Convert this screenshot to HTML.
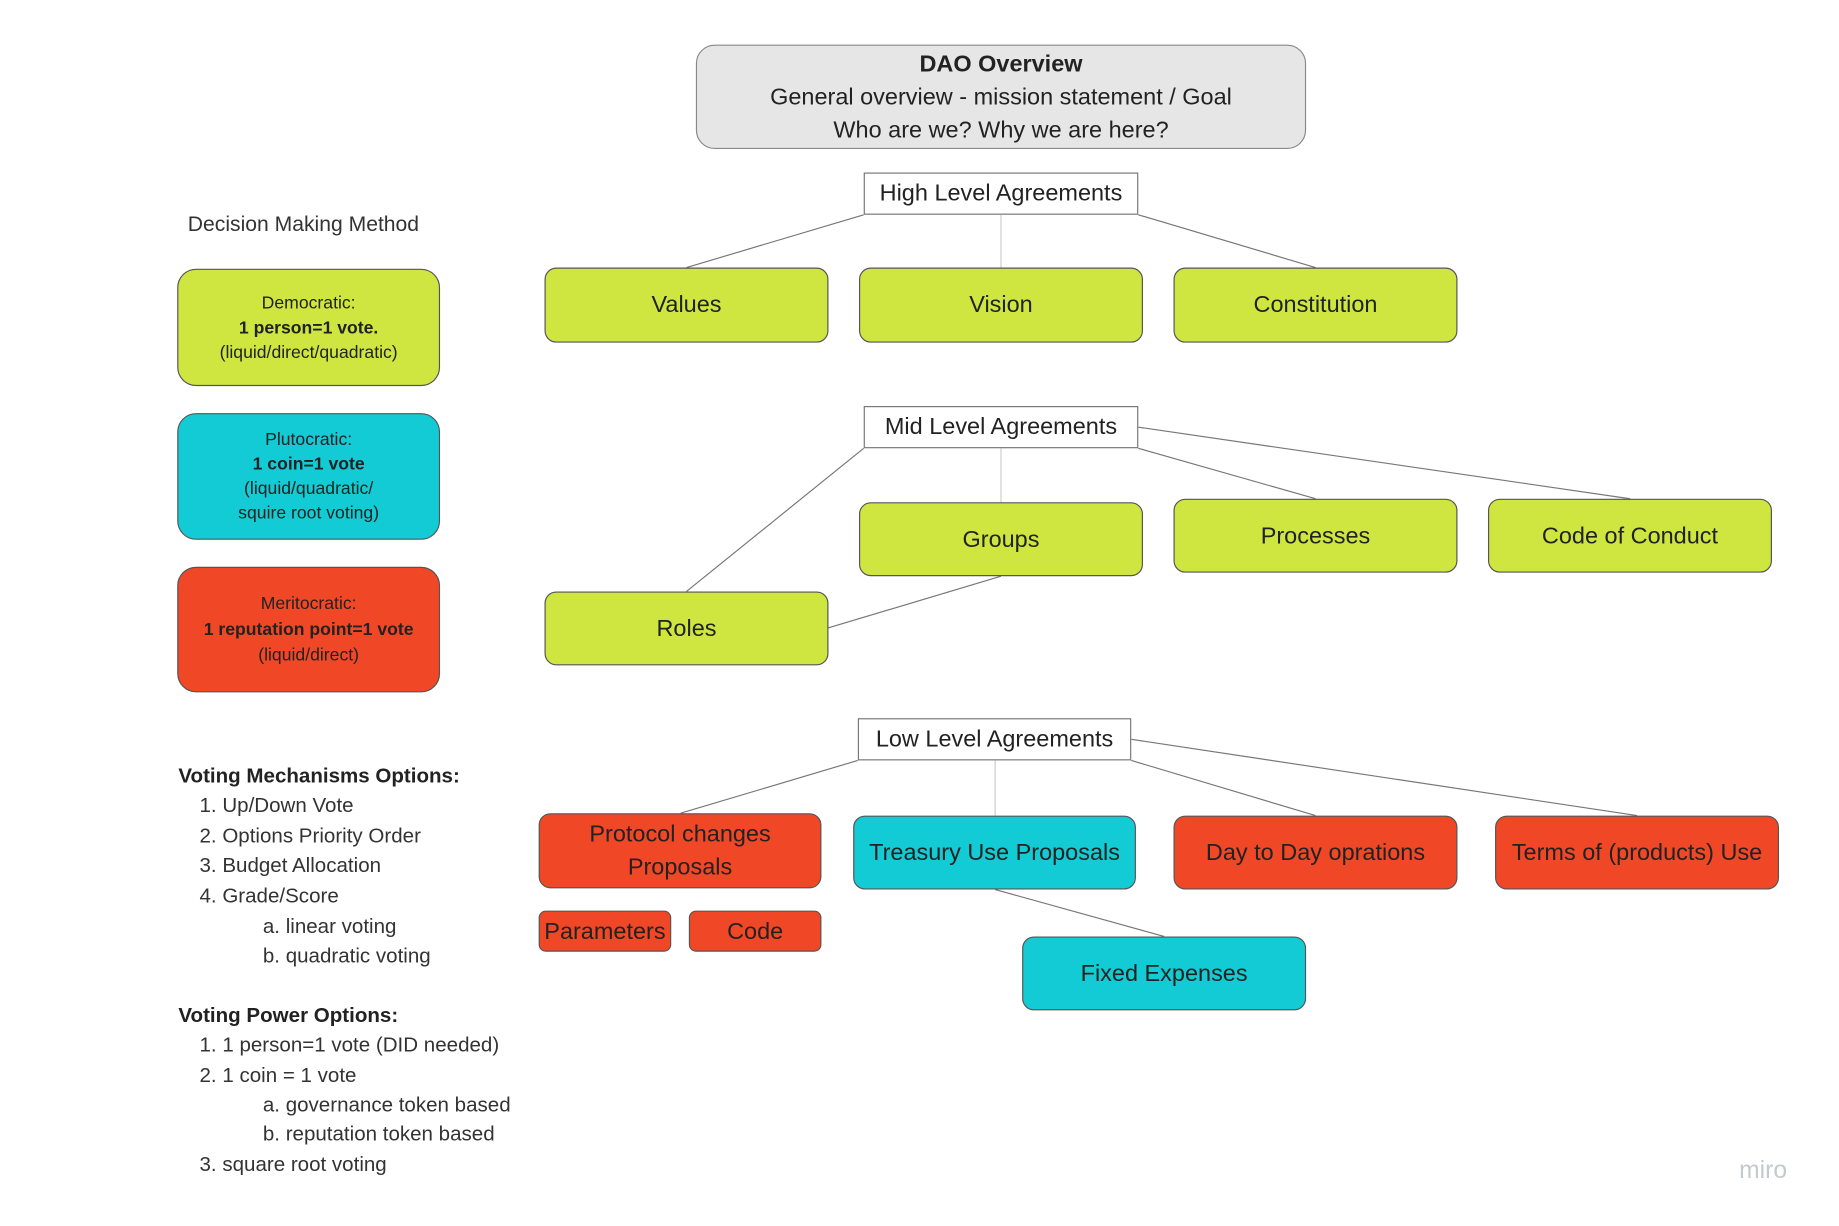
<!DOCTYPE html>
<html><head><meta charset="utf-8"><style>
html,body{margin:0;padding:0;background:#fff;overflow:hidden}
body{width:1839px;height:1223px}
#w{position:absolute;left:0;top:0;width:1570px;height:1045px;transform:scale(1.1735);transform-origin:0 0;font-family:"Liberation Sans",sans-serif;color:#222}
.b{position:absolute;box-sizing:border-box;display:flex;flex-direction:column;align-items:center;justify-content:center;text-align:center;border:1px solid #555;border-radius:10px;font-size:20px;line-height:28px}
.g{background:#cfe640}.c{background:#12cbd4}.r{background:#f04826}
.h{border-radius:0;background:#fff;border-color:#777}
.t{position:absolute;font-size:17.5px;white-space:nowrap;color:#333}
svg{position:absolute;left:0;top:0}
</style></head><body><div id="w">
<svg width="1570" height="1045"><g stroke="#777" stroke-width="1" fill="none">
<line x1="736" y1="183" x2="585" y2="228"/><line x1="853" y1="183" x2="853" y2="228" stroke="#ccc"/><line x1="970" y1="183" x2="1121" y2="228"/>
<line x1="736" y1="382" x2="585" y2="504"/><line x1="853" y1="382" x2="853" y2="428" stroke="#ccc"/><line x1="970" y1="382" x2="1121" y2="425"/><line x1="970" y1="364" x2="1389" y2="425"/><line x1="706" y1="535" x2="853" y2="491"/>
<line x1="731" y1="648" x2="580" y2="693"/><line x1="848" y1="648" x2="848" y2="695" stroke="#ccc"/><line x1="964" y1="648" x2="1121" y2="695"/><line x1="964" y1="630" x2="1395" y2="695"/><line x1="848" y1="758" x2="992" y2="798"/>
</g></svg>
<div class="b" style="left:593px;top:38px;width:520px;height:89px;background:#e6e6e6;border-radius:16px;border-color:#888"><b>DAO Overview</b><span>General overview - mission statement / Goal</span><span>Who are we? Why we are here?</span></div>
<div class="b h" style="left:736px;top:147px;width:234px;height:36px">High Level Agreements</div>
<div class="b g" style="left:464px;top:228px;width:242px;height:64px">Values</div>
<div class="b g" style="left:732px;top:228px;width:242px;height:64px">Vision</div>
<div class="b g" style="left:1000px;top:228px;width:242px;height:64px">Constitution</div>
<div class="t" style="left:160px;top:181px;font-size:18px">Decision Making Method</div>
<div class="b g" style="left:151px;top:229px;width:224px;height:100px;border-radius:16px;font-size:15px;line-height:21px">Democratic:<b>1 person=1 vote.</b>(liquid/direct/quadratic)</div>
<div class="b c" style="left:151px;top:352px;width:224px;height:108px;border-radius:16px;font-size:15px;line-height:21px">Plutocratic:<b>1 coin=1 vote</b>(liquid/quadratic/<br>squire root voting)</div>
<div class="b r" style="left:151px;top:483px;width:224px;height:107px;border-radius:16px;font-size:15px;line-height:22px">Meritocratic:<b>1 reputation point=1 vote</b>(liquid/direct)</div>
<div class="b h" style="left:736px;top:346px;width:234px;height:36px">Mid Level Agreements</div>
<div class="b g" style="left:732px;top:428px;width:242px;height:63px">Groups</div>
<div class="b g" style="left:1000px;top:425px;width:242px;height:63px">Processes</div>
<div class="b g" style="left:1268px;top:425px;width:242px;height:63px">Code of Conduct</div>
<div class="b g" style="left:464px;top:504px;width:242px;height:63px">Roles</div>
<div class="b h" style="left:731px;top:612px;width:233px;height:36px">Low Level Agreements</div>
<div class="b r" style="left:459px;top:693px;width:241px;height:64px">Protocol changes<br>Proposals</div>
<div class="b c" style="left:727px;top:695px;width:241px;height:63px">Treasury Use Proposals</div>
<div class="b r" style="left:1000px;top:695px;width:242px;height:63px">Day to Day oprations</div>
<div class="b r" style="left:1274px;top:695px;width:242px;height:63px">Terms of (products) Use</div>
<div class="b r" style="left:459px;top:776px;width:113px;height:35px;border-radius:6px">Parameters</div>
<div class="b r" style="left:587px;top:776px;width:113px;height:35px;border-radius:6px">Code</div>
<div class="b c" style="left:871px;top:798px;width:242px;height:63px">Fixed Expenses</div>
<div class="t" style="left:152px;top:651px;font-weight:bold;color:#222">Voting Mechanisms Options:</div>
<div class="t" style="left:170px;top:676px">1. Up/Down Vote</div>
<div class="t" style="left:170px;top:702px">2. Options Priority Order</div>
<div class="t" style="left:170px;top:727px">3. Budget Allocation</div>
<div class="t" style="left:170px;top:753px">4. Grade/Score</div>
<div class="t" style="left:224px;top:779px">a. linear voting</div>
<div class="t" style="left:224px;top:804px">b. quadratic voting</div>
<div class="t" style="left:152px;top:855px;font-weight:bold;color:#222">Voting Power Options:</div>
<div class="t" style="left:170px;top:880px">1. 1 person=1 vote (DID needed)</div>
<div class="t" style="left:170px;top:906px">2. 1 coin = 1 vote</div>
<div class="t" style="left:224px;top:931px">a. governance token based</div>
<div class="t" style="left:224px;top:956px">b. reputation token based</div>
<div class="t" style="left:170px;top:982px">3. square root voting</div>
<div class="t" style="left:1482px;top:986px;font-size:21px;color:#c5c9ce">miro</div>
</div></body></html>
